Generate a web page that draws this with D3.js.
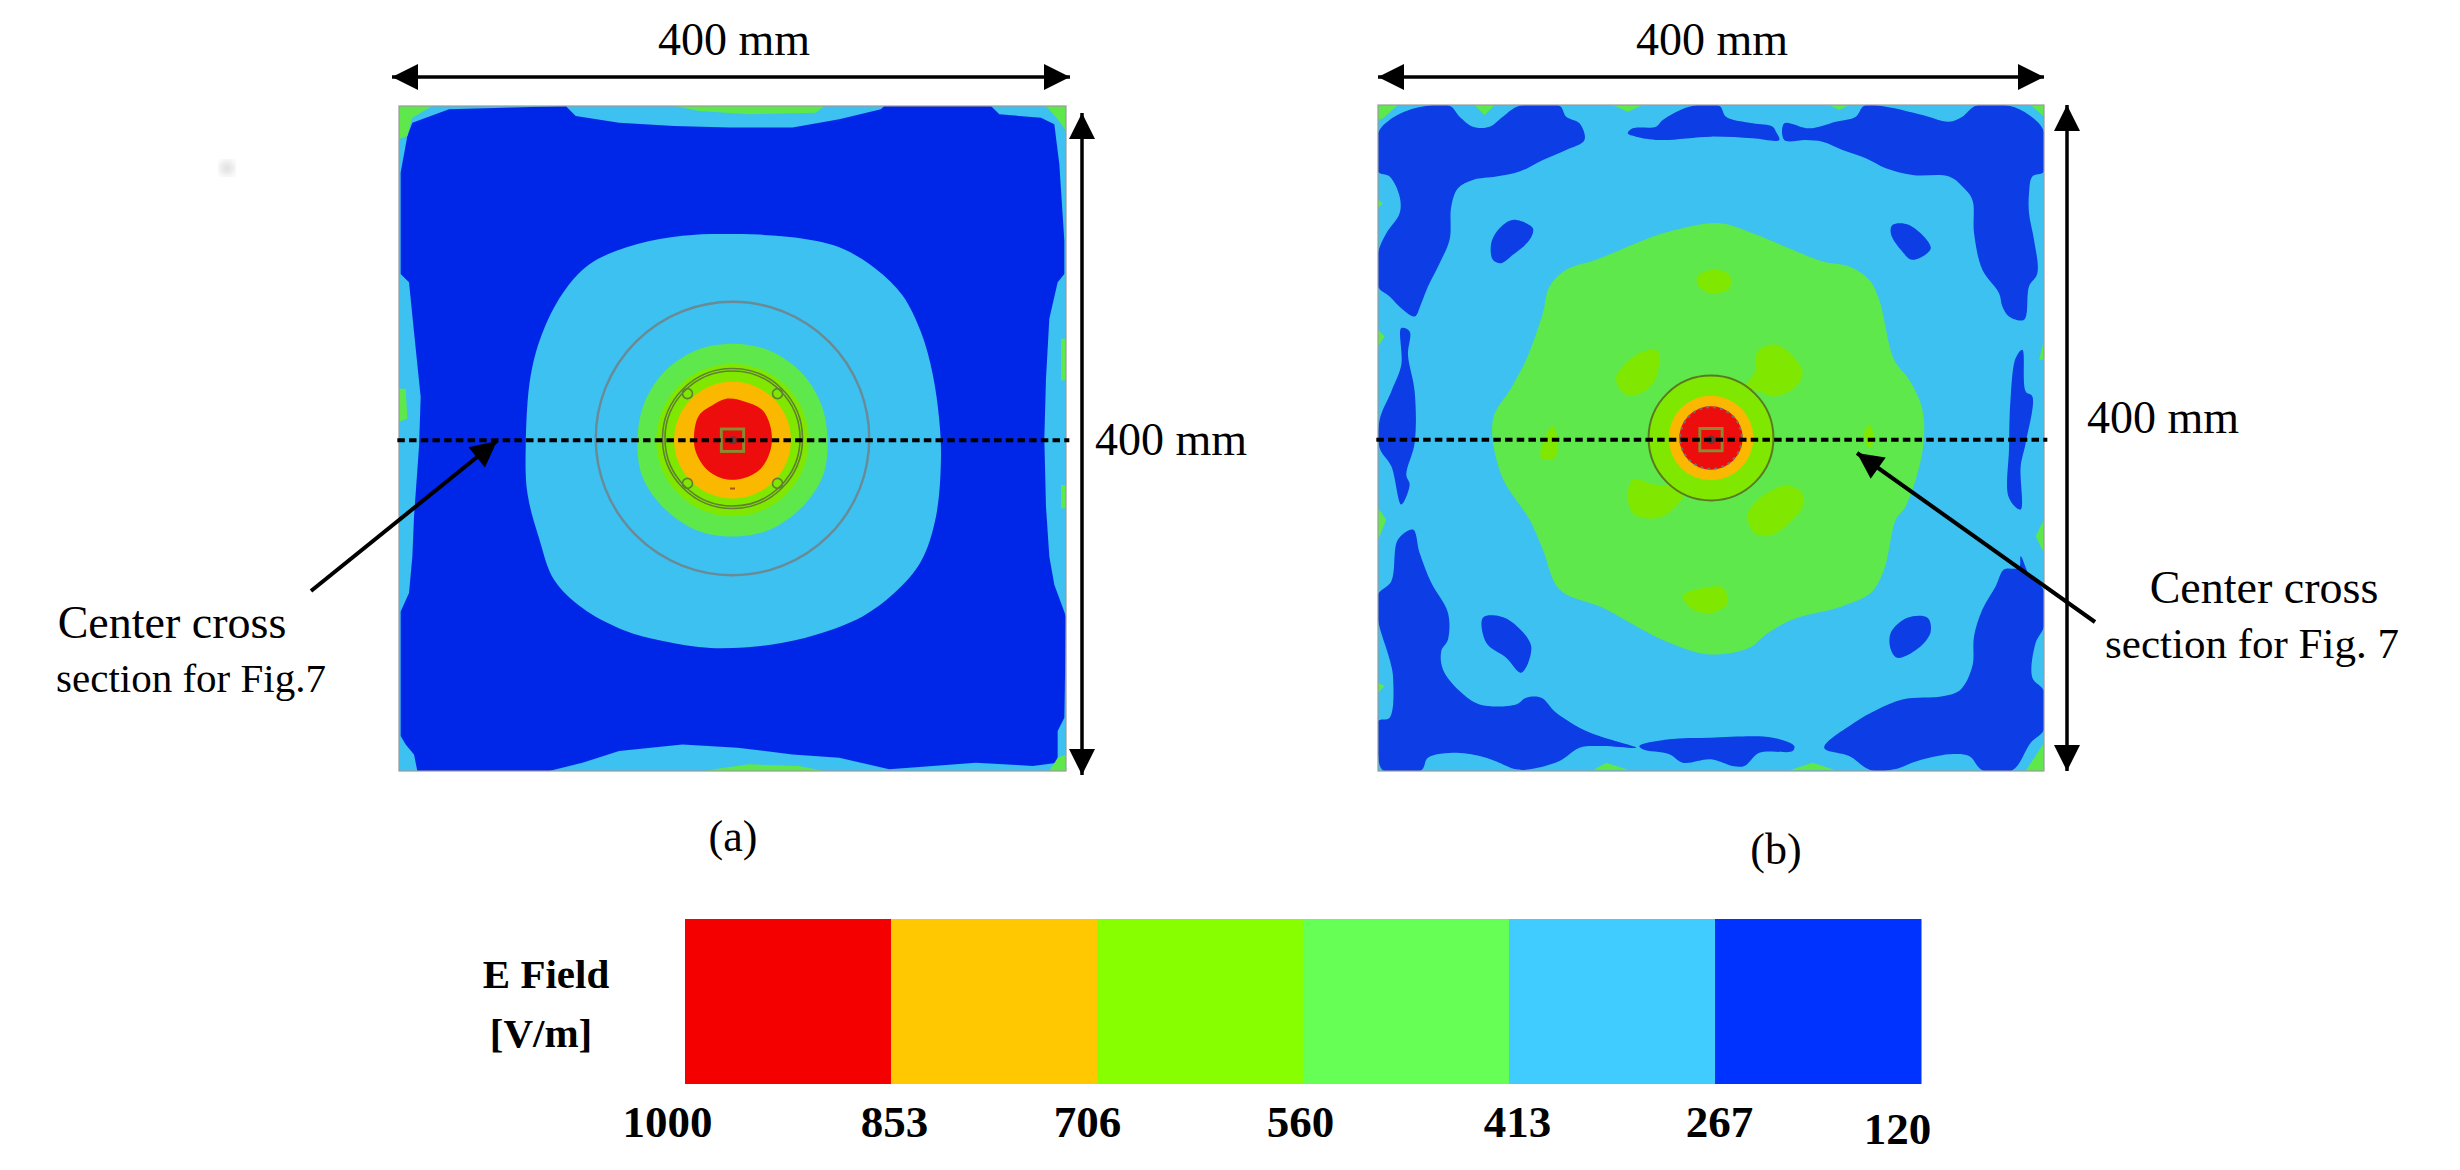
<!DOCTYPE html>
<html>
<head lang="en">
    <meta charset="UTF-8">
    <title>E field distribution</title>
    <style>
        body { margin: 0; background: #fff; }
        svg { display: block; }
        text { font-family: "Liberation Serif", serif; fill: #000; }
    </style>
</head>
<body>
<svg id="chart" width="2460" height="1170" viewBox="0 0 2460 1170"></svg>
<script src="https://d3js.org/d3.v7.min.js" charset="utf-8"></script>
<script>
    let fieldLabels = ['1000', '853', '706', '560', '413', '267', '120'];
    let fieldColors = ['#f50000', '#ffc800', '#88ff00', '#66ff55', '#40ccff', '#0033ff'];

    // plate (a)
    let aDark = [[-192,190],[-170,198],[-100,200],[-94,194],[-68,190],[-35,188],[-2,187],[36,187],[64,192],[89,198],[91,200],[155,200],[160,195],[185,193],[193,189],[196,165],[199,119],[199,99],[195,94],[190,72],[188,36],[187,0],[188,-41],[190,-71],[193,-88],[200,-107],[199,-168],[195,-176],[195,-195],[180,-197],[146,-195],[94,-199],[64,-192],[36,-190],[3,-186],[-30,-184],[-68,-188],[-90,-195],[-110,-200],[-189,-200],[-191,-190],[-196,-184],[-199,-179],[-199,-104],[-194,-93],[-192,-71],[-191,-47],[-188,-5],[-187,25],[-191,64],[-194,94],[-199,99],[-199,160],[-195,182]];
    let aLight = [[1,123],[36,121],[64,115],[86,102],[102,86],[113,64],[120,39],[124,11],[125,-13],[122,-47],[113,-74],[97,-93],[78,-107],[50,-118],[23,-124],[-13,-126],[-41,-122],[-66,-115],[-90,-102],[-107,-85],[-116,-60],[-123,-33],[-124,-5],[-121,38],[-113,66],[-100,90],[-84,106],[-57,117],[-30,122]];
    let aGreen = [[0,57],[22,53],[41,40],[53,21],[57,-1],[54,-23],[41,-42],[22,-55],[0,-59],[-22,-55],[-41,-42],[-54,-23],[-57,-1],[-53,21],[-41,40],[-22,53]];
    let aRed = [[-3,24],[8,22],[18,17],[23,6],[23,-6],[17,-18],[6,-24],[-6,-24],[-16,-18],[-22,-8],[-23,3],[-20,14],[-12,20]];
    let aEdgeGreen = [
        [[-200,200],[-180,200],[-192,193],[-195,182],[-200,180]],
        [[-35,200],[55,200],[50,196],[10,195],[-20,197]],
        [[-17,-200],[55,-200],[40,-197],[10,-196],[-5,-198]],
        [[188,200],[200,200],[200,185],[195,192]],
        [[-200,30],[-196,30],[-195,12],[-200,10]],
        [[197,60],[200,60],[200,35],[197,35]],
        [[197,-28],[200,-28],[200,-42],[197,-42]],
        [[195,-192],[200,-190],[200,-200],[190,-200]]
    ];
    let aRingRadii = [82, 42, 40.5];
    let aBoltOffset = [[-27,27],[27,27],[-27,-27],[27,-27]];

    // plate (b)
    let bDark = [
        [[-200,183],[-193,191],[-178,198],[-157,199.5],[-151,193],[-143,187],[-133,187],[-125,193],[-115,199.5],[-91,199.5],[-87,193],[-79,189],[-76,179],[-87,173],[-101,167],[-115,160],[-129,157],[-143,155],[-152,150],[-156,139],[-157,119],[-163,105],[-170,91],[-174,81],[-178,73],[-185,77],[-193,85],[-200,91],[-200,111],[-195,123],[-187,135],[-187,145],[-193,157],[-200,160]],
        [[-50,183],[-47,186],[-33,187],[-29,191],[-13,199],[5,199.5],[9,193],[25,189],[37,187],[39,184],[41,179],[25,180],[0,181],[-31,179],[-45,181]],
        [[44,189],[59,186],[75,190],[87,193],[92,199.5],[105,199],[127,194],[143,190],[151,193],[159,199.5],[179,199.5],[191,194],[199.5,185],[200,160],[193,157],[191,147],[191,135],[194,119],[196,99],[191,91],[188,71],[179,73],[175,79],[173,87],[163,101],[158,123],[157,143],[151,151],[143,157],[121,158],[105,162],[93,168],[79,173],[67,178],[57,179],[44,179]],
        [[176,-79],[185,-78],[186,-71],[191,-82],[200,-92],[200,-113],[195,-123],[193,-144],[200,-152],[200,-175],[192,-183],[181,-199.5],[163,-199.5],[155,-191],[143,-190],[124,-194],[110,-199],[96,-199.5],[83,-191],[68,-186],[86,-171],[100,-163],[115,-157],[140,-155],[150,-151],[157,-137],[158,-119],[163,-103],[171,-89]],
        [[-179,-55],[-175,-69],[-168,-87],[-158,-105],[-158,-121],[-162,-128],[-161,-139],[-151,-152],[-139,-160],[-117,-160],[-111,-156],[-102,-156],[-93,-165],[-75,-176],[-61,-181],[-45,-186],[-65,-185],[-79,-186],[-91,-194],[-109,-199],[-117,-199],[-135,-192],[-153,-189],[-170,-192],[-174,-199.5],[-197,-199.5],[-200,-190],[-200,-170],[-193,-168],[-191,-143],[-193,-133],[-200,-109],[-200,-94],[-192,-86],[-188,-61]],
        [[-43,-185],[-25,-181],[0,-180],[37,-180],[50,-185],[49,-188],[29,-189],[20,-197],[13,-197],[0,-193],[-17,-195],[-25,-190],[-41,-187]],
        [[-186,66],[-181,64],[-182,50],[-178,28],[-178,-3],[-183,-22],[-181,-28],[-186,-40],[-192,-17],[-199,-6],[-199,11],[-192,28],[-186,44]],
        [[187,53],[189,28],[193,25],[189,-3],[186,-17],[186,-43],[179,-36],[179,-6],[180,25],[183,48]],
        [[-119,131],[-107,126],[-109,119],[-119,110],[-126,105],[-131,107],[-132,117],[-127,126]],
        [[109,128],[119,128],[132,114],[121,107],[114,113],[108,123]],
        [[-137,-108],[-127,-107],[-119,-111],[-108,-125],[-114,-141],[-123,-132],[-135,-123]],
        [[118,-108],[130,-108],[132,-116],[126,-125],[112,-132],[108,-127],[108,-117]]
    ];
    let bGreen = [[5,129],[25,123],[49,113],[67,106],[83,103],[95,95],[101,83],[110,47],[119,35],[127,17],[127,-8],[117,-41],[111,-49],[104,-79],[96,-93],[79,-101],[49,-109],[33,-118],[23,-126],[-1,-130],[-25,-123],[-45,-113],[-65,-102],[-91,-91],[-101,-67],[-109,-49],[-126,-22],[-131,11],[-120,30],[-111,47],[-101,75],[-97,91],[-87,101],[-69,107],[-45,117],[-25,124]];
    let bLime = [
        [[-8,97],[1,101],[11,98],[11,90],[-1,87],[-8,92]],
        [[-17,-95],[-4,-90],[7,-90],[10,-99],[1,-105],[-11,-103]],
        [[-101,-3],[-95,7],[-92,-3],[-94,-12],[-102,-12]],
        [[92,3],[95,8],[98,-1],[95,-6]],
        [[-57,36],[-43,51],[-32,52],[-33,36],[-40,28],[-51,26]],
        [[26,39],[28,52],[39,56],[50,48],[55,39],[50,30],[37,25],[29,28],[20,30]],
        [[-34,-28],[-47,-25],[-50,-36],[-46,-46],[-32,-48],[-21,-41],[-15,-30]],
        [[26,-39],[43,-29],[54,-32],[55,-41],[48,-50],[37,-58],[26,-57],[22,-47]]
    ];
    let bEdgeGreen = [
        [[-200,200],[-188,200],[-197,192],[-200,191]],
        [[-142,200],[-130,200],[-136,194]],
        [[-59,200],[-41,200],[-50,196]],
        [[71,200],[83,200],[77,197]],
        [[192,200],[200,200],[200,193]],
        [[-200,143],[-197,141],[-200,138]],
        [[-200,65],[-196,61],[-200,55]],
        [[-200,-42],[-195,-49],[-199,-59],[-200,-60]],
        [[-200,-147],[-196,-149],[-200,-153]],
        [[200,59],[197,47],[200,47]],
        [[200,-49],[195,-59],[200,-69]],
        [[189,-200],[200,-183],[200,-200]],
        [[-71,-199.5],[-49,-199.5],[-63,-195]],
        [[47,-199.5],[75,-199.5],[61,-195]]
    ];

    let svg = d3.select('#chart');
    let defs = svg.append('defs');

    defs.append('filter').attr('id', 'soft')
        .append('feGaussianBlur').attr('stdDeviation', 0.7);
    defs.append('filter').attr('id', 'smudge')
        .append('feGaussianBlur').attr('stdDeviation', 4);

    defs.append('marker')
        .attr('id', 'head')
        .attr('viewBox', '0 0 10 10')
        .attr('refX', 10).attr('refY', 5)
        .attr('markerUnits', 'userSpaceOnUse')
        .attr('markerWidth', 34).attr('markerHeight', 26)
        .attr('orient', 'auto-start-reverse')
        .append('path')
        .attr('d', 'M0,0L10,5L0,10Z')
        .attr('fill', '#000');

    svg.append('rect').attr('width', 2460).attr('height', 1170).attr('fill', '#fff');

    // plate colours are a little duller than the legend swatches
    let c = {red: '#ee0808', orange: '#fbb800', lime: '#80e800', green: '#5fe84c', light: '#3cc1f0', dark: '#0527e8'};

    function plate(x0, x1, y0, y1) {
        let x = d3.scaleLinear().domain([-200, 200]).range([x0, x1]);
        let y = d3.scaleLinear().domain([-200, 200]).range([y1, y0]);
        let r = v => x(v) - x(0);
        let g = svg.append('g').attr('filter', 'url(#soft)');
        let clip = 'clip' + x0;
        defs.append('clipPath').attr('id', clip).append('rect')
            .attr('x', x(-200)).attr('y', y(200))
            .attr('width', x(200) - x(-200)).attr('height', y(-200) - y(200));
        let body = g.append('g').attr('clip-path', 'url(#' + clip + ')');
        let line = d3.line().x(d => x(d[0])).y(d => y(d[1])).curve(d3.curveCatmullRomClosed.alpha(0.5));
        let sharp = d3.line().x(d => x(d[0])).y(d => y(d[1])).curve(d3.curveLinearClosed);
        let blob = (pts, fill, gen) => body.append('path').attr('d', (gen || line)(pts)).attr('fill', fill);
        let disc = (r0, cy, attrs) => {
            let s = body.append('circle').attr('cx', x(0)).attr('cy', y(cy)).attr('r', r(r0));
            Object.keys(attrs).forEach(k => s.attr(k, attrs[k]));
            return s;
        };
        body.append('rect').attr('x', x(-200)).attr('y', y(200))
            .attr('width', x(200) - x(-200)).attr('height', y(-200) - y(200))
            .attr('fill', c.light);
        return {x, y, r, g, body, blob, disc, sharp};
    }

    function bolt(p) {
        // centre feed: square outline with a dark pin
        let s = p.x(6.7) - p.x(-6.7);
        p.body.append('rect').attr('x', p.x(-6.7)).attr('y', p.y(5.7)).attr('width', s).attr('height', s)
            .attr('fill', 'none').attr('stroke', '#8a8a30').attr('stroke-width', 3);
        p.body.append('circle').attr('cx', p.x(0)).attr('cy', p.y(-1)).attr('r', p.r(2.4))
            .attr('fill', '#444').attr('opacity', 0.8);
    }

    // (a)
    let pa = plate(399, 1066, 106, 771);
    pa.blob(aDark, c.dark, pa.sharp);
    aEdgeGreen.forEach(d => pa.blob(d, c.green, pa.sharp));
    pa.blob(aLight, c.light);
    pa.blob(aGreen, c.green);
    pa.disc(45.7, -1, {fill: c.lime});
    pa.disc(35, -1, {fill: c.orange});
    pa.blob(aRed, c.red);
    pa.body.append('rect').attr('x', pa.x(-1.5)).attr('y', pa.y(-29.5))
        .attr('width', pa.r(3)).attr('height', 2).attr('fill', '#a05a10');
    aRingRadii.forEach((d, i) => pa.disc(d, 0, {
        fill: 'none', stroke: i ? '#5f8030' : '#6a8a96', 'stroke-width': i ? 1.6 : 2.4
    }));
    aBoltOffset.forEach(d => {
        pa.body.append('circle').attr('cx', pa.x(d[0])).attr('cy', pa.y(d[1])).attr('r', pa.r(3))
            .attr('fill', 'none').attr('stroke', '#5f8030').attr('stroke-width', 1.6);
    });
    bolt(pa);

    // (b)
    let pb = plate(1378, 2044, 105, 771);
    bDark.forEach(d => pb.blob(d, '#0a3de4'));
    bEdgeGreen.forEach(d => pb.blob(d, c.green, pb.sharp));
    pb.blob(bGreen, c.green);
    pb.disc(37.5, 0, {fill: c.lime});
    bLime.forEach(d => pb.blob(d, c.lime));
    pb.disc(25.4, 0, {fill: c.orange});
    pb.disc(19, 0, {fill: c.red});
    pb.disc(18.5, 0, {fill: 'none', stroke: '#77706a', 'stroke-width': 2, 'stroke-dasharray': '3,4'});
    pb.disc(37.5, 0, {fill: 'none', stroke: '#5a7a20', 'stroke-width': 2});
    bolt(pb);

    // plate frames and the dotted cross section
    [pa, pb].forEach(p => {
        p.g.append('rect').attr('x', p.x(-200)).attr('y', p.y(200))
            .attr('width', p.x(200) - p.x(-200)).attr('height', p.y(-200) - p.y(200))
            .attr('fill', 'none').attr('stroke', '#9a9a9a').attr('stroke-width', 1.2);
        svg.append('line')
            .attr('x1', p.x(-201)).attr('x2', p.x(202))
            .attr('y1', p.y(-1)).attr('y2', p.y(-1))
            .attr('stroke', '#000').attr('stroke-width', 4)
            .attr('stroke-dasharray', '7.5,4.2');
    });

    // dimension and leader arrows
    let arrow = (x1, y1, x2, y2, both, w) => {
        svg.append('line')
            .attr('x1', x1).attr('y1', y1).attr('x2', x2).attr('y2', y2)
            .attr('stroke', '#000').attr('stroke-width', w)
            .attr('marker-end', 'url(#head)')
            .attr('marker-start', both ? 'url(#head)' : null);
    };
    arrow(392, 77, 1070, 77, true, 3.5);
    arrow(1082, 113, 1082, 775, true, 3.5);
    arrow(1378, 77, 2044, 77, true, 3.5);
    arrow(2067, 105, 2067, 771, true, 3.5);
    arrow(311, 591, 497, 441, false, 4);
    arrow(2095, 622, 1857, 453, false, 4);

    let label = (t, x, y, size, anchor, weight) => svg.append('text')
        .attr('x', x).attr('y', y)
        .attr('font-size', size)
        .attr('text-anchor', anchor || 'middle')
        .attr('font-weight', weight || 'normal')
        .text(t);

    label('400 mm', 734, 55, 46);
    label('400 mm', 1712, 55, 46);
    label('400 mm', 1171, 455, 46);
    label('400 mm', 2163, 433, 46);
    label('Center cross', 172, 638, 46);
    label('section for Fig.7', 191, 692, 41);
    label('Center cross', 2264, 603, 46);
    label('section for Fig. 7', 2252, 658, 43);
    label('(a)', 733, 851, 44);
    label('(b)', 1776, 864, 44);

    // legend
    let legendX = d3.scaleBand().domain(d3.range(fieldColors.length)).range([685, 1921]);
    svg.append('g').selectAll('rect')
        .data(fieldColors)
        .join('rect')
        .attr('x', (d, i) => legendX(i))
        .attr('y', 919)
        .attr('width', legendX.bandwidth() + 0.5)
        .attr('height', 165)
        .attr('fill', d => d);

    let legendTicks = d3.scalePoint().domain(fieldLabels).range([685, 1921]);
    let tickAxis = svg.append('g')
        .attr('transform', 'translate(0,1137)')
        .call(d3.axisBottom(legendTicks).tickSize(0));
    tickAxis.select('.domain').remove();
    let tickNudgeX = [-18, 3, -10, -3, 8, 4, -24];
    let tickNudgeY = [0, 0, 0, 0, 0, 0, 7];
    tickAxis.selectAll('text')
        .attr('y', 0).attr('dy', 0)
        .attr('font-family', '"Liberation Serif", serif')
        .attr('font-size', 45)
        .attr('font-weight', 'bold')
        .attr('transform', (d, i) => 'translate(' + tickNudgeX[i] + ',' + tickNudgeY[i] + ')');

    label('E Field', 546, 988, 41, 'middle', 'bold');
    label('[V/m]', 541, 1047, 41, 'middle', 'bold');

    // scanner smudge at the top left of the page
    svg.append('circle').attr('cx', 227).attr('cy', 168).attr('r', 7)
        .attr('fill', '#999').attr('opacity', 0.35).attr('filter', 'url(#smudge)');
</script>
</body>
</html>
